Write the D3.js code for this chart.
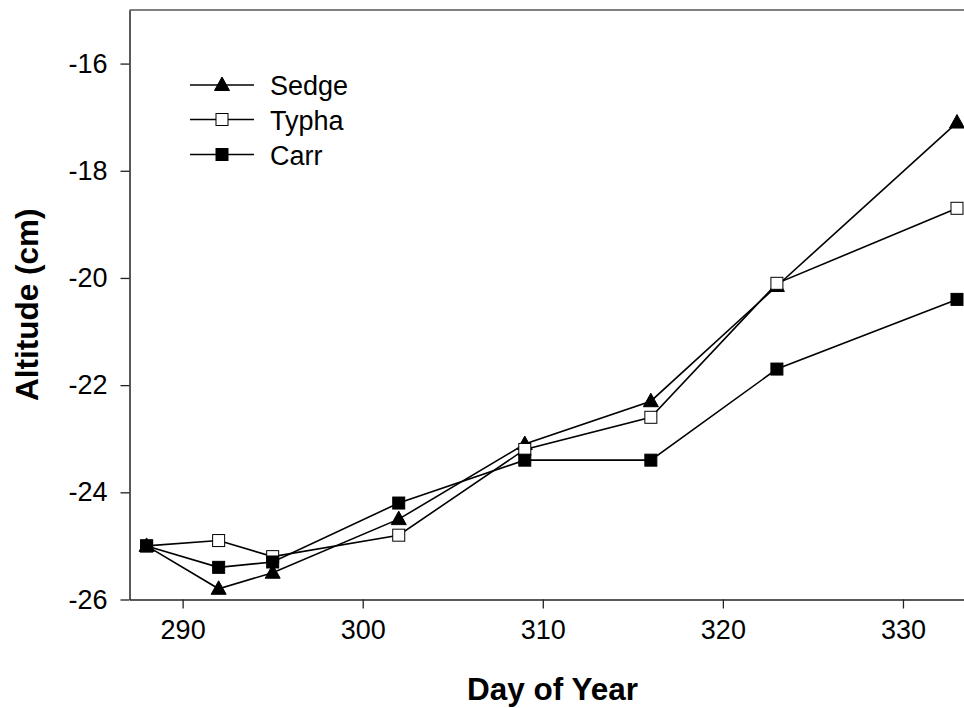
<!DOCTYPE html>
<html>
<head>
<meta charset="utf-8">
<script src="https://cdn.jsdelivr.net/npm/d3@7"></script>
<style>
  html, body { margin: 0; padding: 0; background: #fff; overflow: hidden; }
  svg { display: block; font-family: "Liberation Sans", Arial, sans-serif; }
</style>
</head>
<body>
<svg id="chart" width="964" height="708"></svg>
<script>
// ---- data ----
const days = [288, 292, 295, 302, 309, 316, 323, 333];
const sedge = [-25.0, -25.8, -25.5, -24.5, -23.1, -22.3, -20.15, -17.1];
const typha = [-25.0, -24.9, -25.2, -24.8, -23.2, -22.6, -20.1, -18.7];
const carr  = [-25.0, -25.4, -25.3, -24.2, -23.4, -23.4, -21.7, -20.4];
const seriesNames = ["Sedge", "Typha", "Carr"];
const xTicks = [290, 300, 310, 320, 330];
const yTicks = [-26, -24, -22, -20, -18, -16];
const xTitle = "Day of Year";
const yTitle = "Altitude (cm)";

(function () {
const series = [
  { name: seriesNames[0], values: sedge, shape: "triangle", fill: "#000" },
  { name: seriesNames[1], values: typha, shape: "square", fill: "#fff" },
  { name: seriesNames[2], values: carr,  shape: "square", fill: "#000" }
];

// ---- layout ----
const svg = d3.select("#chart");
const pLeft = 129.5, pRight = 975, pTop = 10, pBottom = 599.5;
const x = d3.scaleLinear().domain([287.05, 334]).range([pLeft, pRight]);
const y = d3.scaleLinear().domain([-26, -15]).range([pBottom, pTop]);

// frame (top and right)
svg.append("path")
  .attr("d", `M${pLeft},${pTop}H${pRight}V${pBottom}`)
  .attr("fill", "none").attr("stroke", "#555").attr("stroke-width", 1.5);

// axes
const xAxis = svg.append("g").attr("transform", `translate(0,${pBottom})`)
  .call(d3.axisBottom(x).tickValues(xTicks).tickSize(9).tickPadding(11).tickSizeOuter(0));
const yAxis = svg.append("g").attr("transform", `translate(${pLeft},0)`)
  .call(d3.axisLeft(y).tickValues(yTicks).tickSize(9).tickPadding(13).tickSizeOuter(0)
        .tickFormat(d => String(d)));
[xAxis, yAxis].forEach(a => {
  a.select(".domain").attr("stroke", "#222").attr("stroke-width", 1.5);
  a.selectAll(".tick line").attr("stroke", "#222").attr("stroke-width", 1.3);
  a.selectAll(".tick text").attr("fill", "#000").style("font-size", "27px")
    .style("font-family", "'Liberation Sans', Arial, sans-serif");
});
xAxis.selectAll(".tick text").attr("dy", "0.71em");

// axis titles
svg.append("text").attr("x", 552.5).attr("y", 700).attr("text-anchor", "middle")
  .style("font-size", "31.5px").style("font-weight", "bold").text(xTitle);
svg.append("text").attr("transform", `translate(37.5,${(pTop + pBottom) / 2}) rotate(-90)`)
  .attr("text-anchor", "middle")
  .style("font-size", "31.5px").style("font-weight", "bold").text(yTitle);

// markers
function drawMarker(g, shape, fill, cx, cy) {
  if (shape === "triangle") {
    g.append("path")
      .attr("d", `M${cx},${cy - 8}L${cx + 7.5},${cy + 5.5}L${cx - 7.5},${cy + 5.5}Z`)
      .attr("fill", fill).attr("stroke", "#000").attr("stroke-width", 1);
  } else {
    g.append("rect").attr("x", cx - 6).attr("y", cy - 6).attr("width", 12).attr("height", 12)
      .attr("fill", fill).attr("stroke", "#000").attr("stroke-width", 1);
  }
}

const line = d3.line().x(d => x(d[0])).y(d => y(d[1]));
series.forEach(s => {
  const pts = days.map((d, i) => [d, s.values[i]]);
  const g = svg.append("g");
  g.append("path").attr("d", line(pts)).attr("fill", "none")
    .attr("stroke", "#000").attr("stroke-width", 1.6);
  pts.forEach(p => drawMarker(g, s.shape, s.fill, x(p[0]), y(p[1])));
});

// legend
const legY = [85, 119.5, 154.5];
series.forEach((s, i) => {
  const g = svg.append("g");
  g.append("line").attr("x1", 190).attr("x2", 254).attr("y1", legY[i]).attr("y2", legY[i])
    .attr("stroke", "#000").attr("stroke-width", 1.6);
  drawMarker(g, s.shape, s.fill, 222, legY[i]);
  g.append("text").attr("x", 270).attr("y", legY[i] + 10).style("font-size", "27px")
    .text(s.name);
});
})();
</script>
</body>
</html>
